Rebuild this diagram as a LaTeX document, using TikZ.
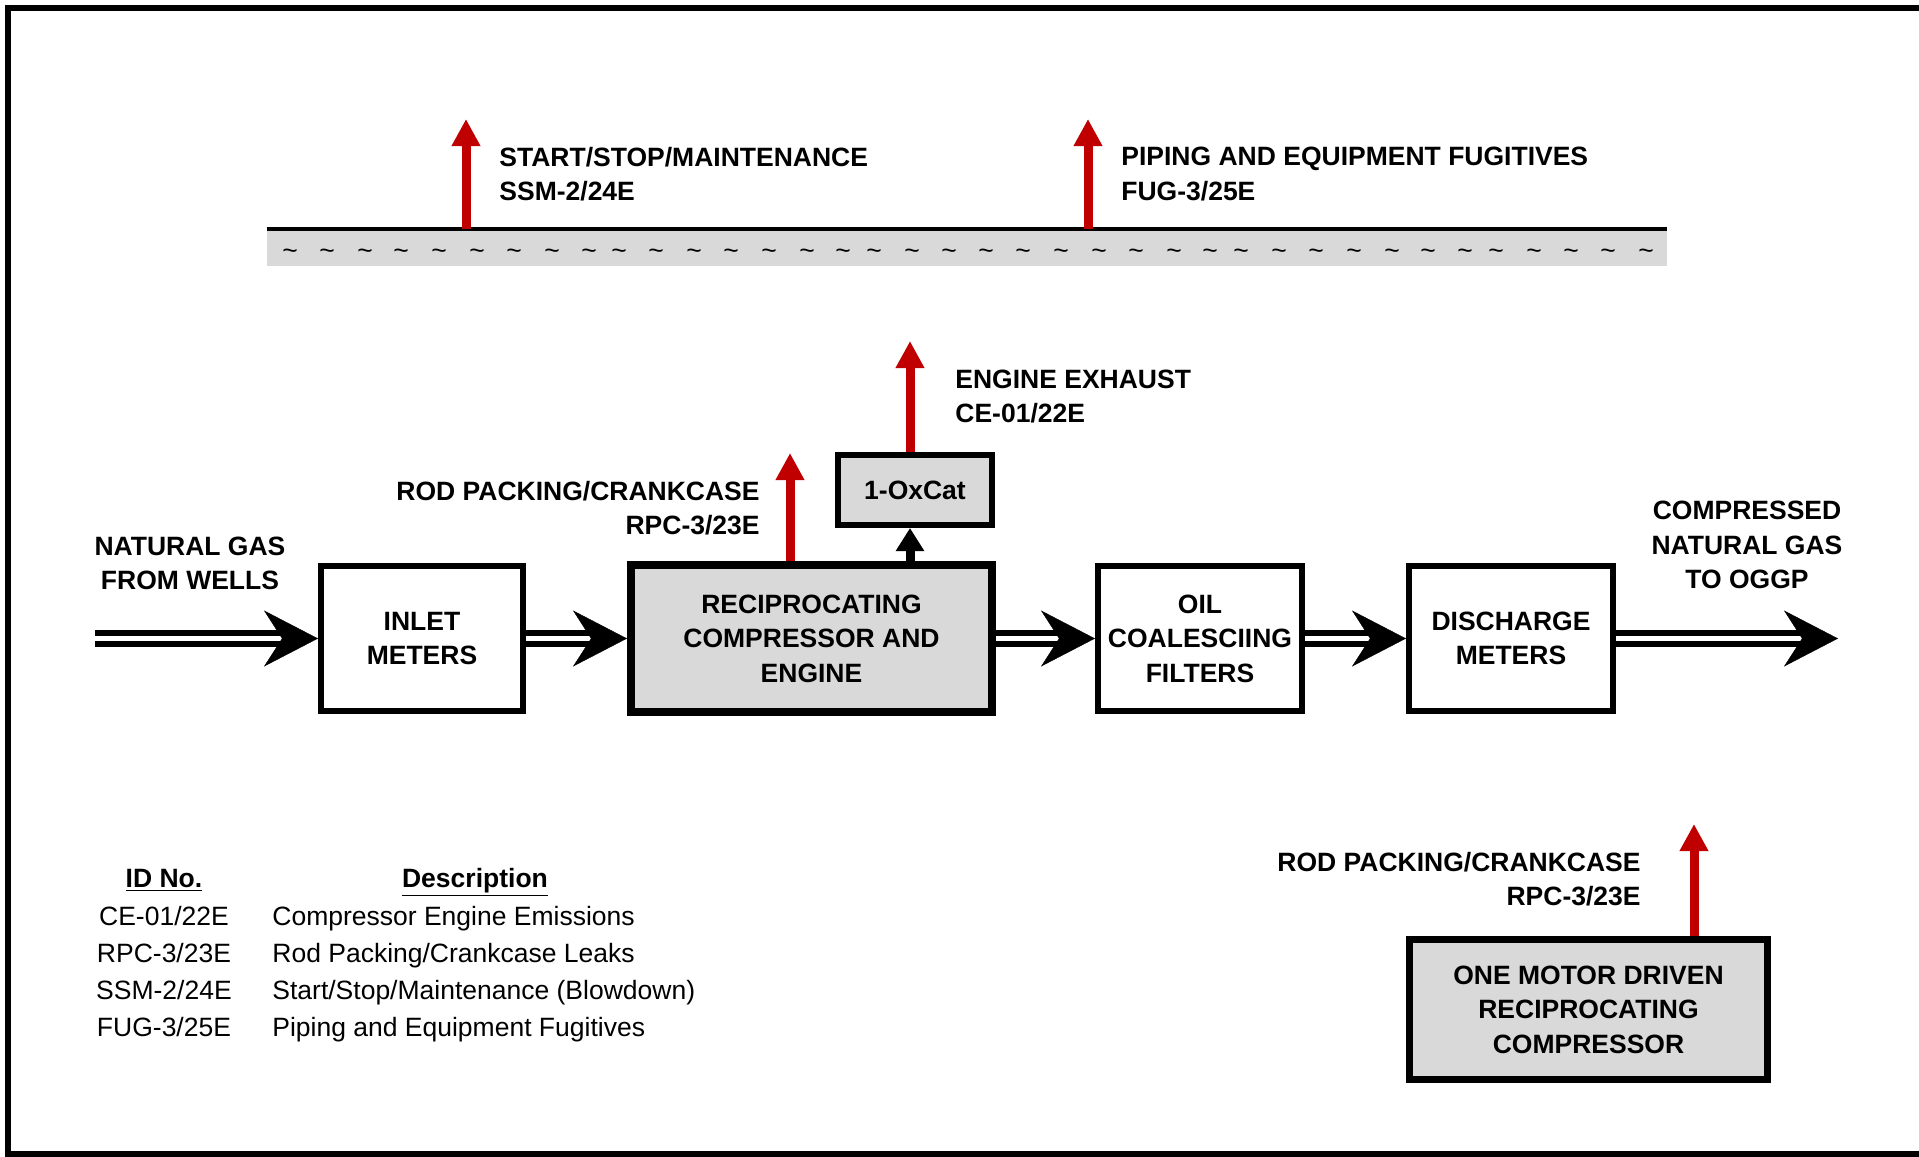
\documentclass[tikz,border=0pt]{standalone}
\usepackage{fontspec}
\setmainfont{Liberation Sans}
\usetikzlibrary{arrows.meta}
\definecolor{boxgray}{HTML}{D9D9D9}
\definecolor{arrred}{HTML}{C00000}
\newcommand\fs{\fontsize{13.25pt}{17.25pt}\selectfont}
\begin{document}
\begin{tikzpicture}[x=0.5pt,y=-0.5pt,
  lbl/.style={font=\fs\bfseries, inner sep=0pt, align=center},
  leg/.style={font=\fs, inner sep=0pt},
  box/.style={draw, line width=3pt, inner sep=0pt, align=center, font=\fs\bfseries},
  graybox/.style={box, fill=boxgray},
  redarr/.style={draw=arrred, line width=4.5pt, -{Triangle[length=13.5pt,width=13.5pt]}},
  blackarr/.style={draw=black, line width=4.5pt, -{Triangle[length=11.5pt,width=13.5pt]}},
  flow/.style={draw=white, line width=0.2pt,
    -{Stealth[length=27pt,width=28pt,inset=9pt,color=black]},
    preaction={draw=black, -, line width=3pt, double=white, double distance=2.5pt, shorten >=15pt}},
]
\useasboundingbox (0,0) rectangle (1919,1157);
\fill[white] (0,0) rectangle (1919,1157);
\draw[line width=3pt] (1925,8) -- (8,8) -- (8,1154) -- (1925,1154);

% band
\node[fill=boxgray, inner sep=0pt, minimum width=700pt, minimum height=18.5pt] (band) at (967,247.5) {};
\draw[line width=2pt] (band.north west) -- (band.north east);
\foreach \x [count=\i] in {290,327,365,401,439,477,514,552,589,619,656,694,731,769,807,843,874,912,949,986,1023,1061,1099,1136,1174,1210,1241,1279,1316,1354,1392,1428,1465,1496,1534,1571,1608,1646}
  \node[leg] (tilde\i) at (\x,254) {\textasciitilde};

% boxes
\node[box, minimum width=101pt, minimum height=72.5pt] (inlet) at (422,638.5) {INLET\\METERS};
\node[graybox, line width=4pt, minimum width=180.5pt, minimum height=73.5pt] (comp) at (811.5,638.5) {RECIPROCATING\\COMPRESSOR AND\\ENGINE};
\node[box, minimum width=102pt, minimum height=72.5pt] (oil) at (1200,638.5) {OIL\\COALESCIING\\FILTERS};
\node[box, minimum width=102pt, minimum height=72.5pt] (disch) at (1511,638.5) {DISCHARGE\\METERS};
\node[graybox, minimum width=77pt, minimum height=35pt] (oxcat) at (915,490) {1-OxCat};
\node[graybox, line width=3.5pt, minimum width=179pt, minimum height=70pt] (motor) at (1588.5,1009.5) {ONE MOTOR DRIVEN\\RECIPROCATING\\COMPRESSOR};

% flow arrows
\coordinate (src) at (95,638.5);
\coordinate (dst) at (1838,638.5);
\draw[flow] (src) -- (inlet.west);
\draw[flow] (inlet.east) -- (comp.west);
\draw[flow] (comp.east) -- (oil.west);
\draw[flow] (oil.east) -- (disch.west);
\draw[flow] (disch.east) -- (dst);

% emission arrows
\coordinate (ssmtip) at (466,119);
\coordinate (fugtip) at (1088,119);
\coordinate (exhtip) at (910,341);
\coordinate (rpctip) at (790,453);
\coordinate (rpc2tip) at (1694,824);
\draw[redarr] (ssmtip |- band.north) -- (ssmtip);
\draw[redarr] (fugtip |- band.north) -- (fugtip);
\draw[redarr] (exhtip |- oxcat.north) -- (exhtip);
\draw[redarr] (rpctip |- comp.north) -- (rpctip);
\draw[redarr] (rpc2tip |- motor.north) -- (rpc2tip);
\draw[blackarr] (exhtip |- comp.north) -- (exhtip |- oxcat.south);

% labels
\node[lbl, anchor=west, align=left] (ssmlbl) at (499,174) {START/STOP/MAINTENANCE\\SSM-2/24E};
\node[lbl, anchor=west, align=left] (fuglbl) at (1121,174) {PIPING AND EQUIPMENT FUGITIVES\\FUG-3/25E};
\node[lbl, anchor=west, align=left] (exhlbl) at (955,396.5) {ENGINE EXHAUST\\CE-01/22E};
\node[lbl, anchor=east, align=right] (rpclbl) at (760,508) {ROD PACKING/CRANKCASE\\RPC-3/23E};
\node[lbl, anchor=east, align=right] (rpc2lbl) at (1641,879) {ROD PACKING/CRANKCASE\\RPC-3/23E};
\node[lbl] (nglbl) at (190,563.5) {NATURAL GAS\\FROM WELLS};
\node[lbl] (cnglbl) at (1747,545) {COMPRESSED\\NATURAL GAS\\TO OGGP};

% legend
\node[lbl, anchor=base] (idh) at (164,887) {\underline{ID No.}};
\node[lbl, anchor=base] (desch) at (475,887) {\underline{Description}};
\node[leg, anchor=base] (id1) at (164,925) {CE-01/22E};
\node[leg, anchor=base] (id2) at (164,962) {RPC-3/23E};
\node[leg, anchor=base] (id3) at (164,999) {SSM-2/24E};
\node[leg, anchor=base] (id4) at (164,1036) {FUG-3/25E};
\node[leg, anchor=base west] (d1) at (272,925) {Compressor Engine Emissions};
\node[leg, anchor=base west] (d2) at (272,962) {Rod Packing/Crankcase Leaks};
\node[leg, anchor=base west] (d3) at (272,999) {Start/Stop/Maintenance (Blowdown)};
\node[leg, anchor=base west] (d4) at (272,1036) {Piping and Equipment Fugitives};
\end{tikzpicture}
\end{document}
